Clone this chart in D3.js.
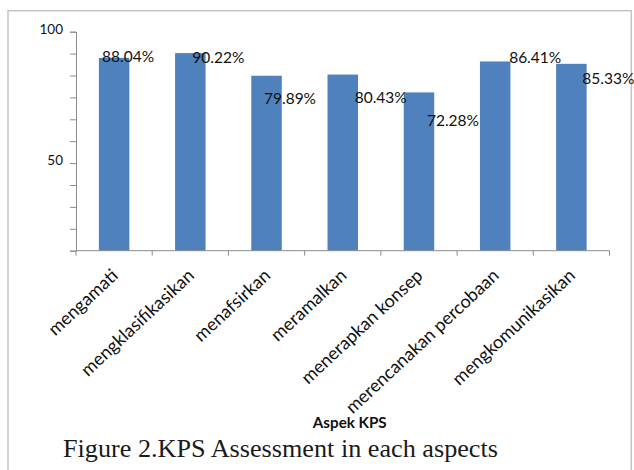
<!DOCTYPE html>
<html><head><meta charset="utf-8">
<script src="https://cdn.jsdelivr.net/npm/d3@7"></script>
<style>body{margin:0;background:#fff}</style>
</head><body>
<svg id="s" width="634" height="470"></svg>
<script>
// ---- data ----
const categories = ["mengamati","mengklasifikasikan","menafsirkan","meramalkan","menerapkan konsep","merencanakan percobaan","mengkomunikasikan"];
const values = [88.04, 90.22, 79.89, 80.43, 72.28, 86.41, 85.33];
const valueLabels = ["88.04%","90.22%","79.89%","80.43%","72.28%","86.41%","85.33%"];
const yTickValues = [0,10,20,30,40,50,60,70,80,90,100];
// tick labels as printed in the picture (the "50" sits on the 40 tick there)
const yTickLabels = [{at:100, text:"100"}, {at:40, text:"50"}];
const xTitle = "Aspek KPS";
const caption = "Figure 2.KPS Assessment in each aspects";

// ---- layout ----
const W = 634, H = 470;
const plot = {left:76, right:609.5, top:31.7, bottom:250.7};
// manual nudges of the data labels (px from bar centre / bar top), as dragged in the original
const labelNudge = [[14,-1],[28,4],[23.5,22.6],[38,22.7],[34,27.6],[40,-4],[37,14.5]];

const svg = d3.select("#s");

// frame
svg.append("rect").attr("x",8).attr("y",10.7).attr("width",623.3).attr("height",480)
  .attr("fill","none").attr("stroke","#c3c3c3").attr("stroke-width",1.5);

const x = d3.scaleBand().domain(categories).range([plot.left, plot.right]).paddingInner(0.6).paddingOuter(0.3);
const y = d3.scaleLinear().domain([0,100]).range([plot.bottom, plot.top]);

// bars
svg.append("g").selectAll("rect").data(values).join("rect")
  .attr("x",(d,i)=>x(categories[i]))
  .attr("y",d=>y(d))
  .attr("width",x.bandwidth())
  .attr("height",d=>y(0)-y(d))
  .attr("fill","#4f81bd");

// y axis
const labelMap = new Map(yTickLabels.map(d=>[d.at,d.text]));
const yAxis = d3.axisLeft(y).tickValues(yTickValues).tickSize(6).tickPadding(7)
  .tickFormat(d=>labelMap.get(d)||"");
const gy = svg.append("g").attr("transform",`translate(${plot.left},0)`).call(yAxis);
gy.select(".domain").attr("stroke","#8c8c8c");
gy.selectAll(".tick line").attr("stroke","#8c8c8c");
gy.selectAll(".tick text").style("font-family","Lato").style("font-size","13.5px").attr("fill","#111").attr("dy","0.1em");

// x axis line + boundary ticks
const step = x.step();
const bounds = categories.map(c=>x(c)-step*x.paddingInner()/2);
bounds.push(bounds[bounds.length-1]+step);
const gx = svg.append("g");
gx.append("line").attr("x1",plot.left).attr("x2",plot.right).attr("y1",y(0)).attr("y2",y(0)).attr("stroke","#8c8c8c");
gx.selectAll("line.t").data(bounds).join("line").attr("class","t")
  .attr("x1",d=>d).attr("x2",d=>d).attr("y1",y(0)).attr("y2",y(0)+5).attr("stroke","#8c8c8c");

// category labels
gx.selectAll("text").data(categories).join("text")
  .attr("transform",d=>`translate(${x(d)+x.bandwidth()/2+5},277) rotate(-43)`)
  .attr("text-anchor","end")
  .style("font-family","Lato").style("font-size","18px").attr("fill","#111")
  .text(d=>d);

// data labels
svg.append("g").selectAll("text").data(values).join("text")
  .attr("x",(d,i)=>x(categories[i])+x.bandwidth()/2+labelNudge[i][0])
  .attr("y",(d,i)=>y(d)+labelNudge[i][1])
  .attr("dy","0.36em")
  .attr("text-anchor","middle")
  .style("font-family","Lato").style("font-size","15.5px").attr("fill","#111")
  .text((d,i)=>valueLabels[i]);

// axis title
svg.append("text").attr("x",(plot.left+plot.right)/2+7).attr("y",428)
  .attr("text-anchor","middle").style("font-family","Lato").style("font-weight","bold")
  .style("font-size","15.2px").attr("fill","#111").text(xTitle);

// caption
svg.append("text").attr("x",63).attr("y",456.5)
  .style("font-family","Liberation Serif").style("font-size","26.2px").attr("fill","#1a1a1a").text(caption);
</script>
</body></html>
